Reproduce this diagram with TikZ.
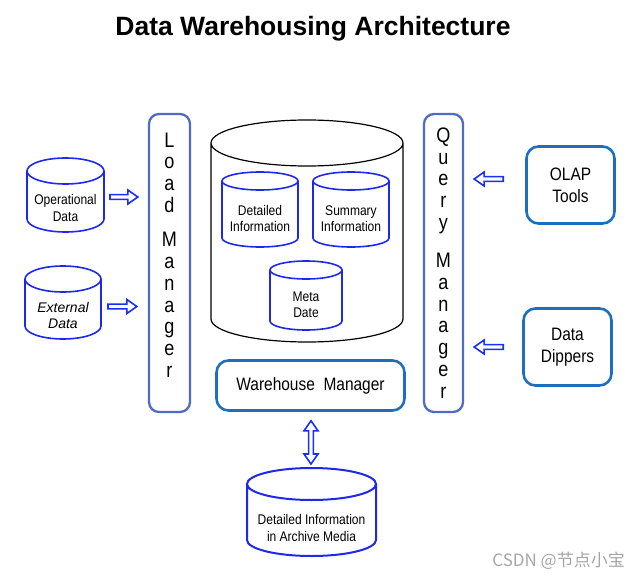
\documentclass[tikz,border=0pt]{standalone}
\usepackage{fontspec}
\setmainfont{Liberation Sans}
\newfontfamily\narrowfont[FakeStretch=0.86]{Liberation Sans}
\newfontfamily\cjkfont{Noto Sans CJK SC}
\usetikzlibrary{arrows.meta,calc}
\definecolor{mgrblue}{RGB}{78,108,196}
\definecolor{boxblue}{RGB}{28,110,190}
\definecolor{cylblue}{RGB}{30,40,235}
\definecolor{arrblue}{RGB}{25,45,255}
\newcommand\drawcyl[3]{%
  \draw[#3] let \p1=(#1.north west), \p2=(#1.south east), \n1={(\x2-\x1)/2} in
    ({\x1},{\y1-#2pt}) -- ({\x1},{\y2+#2pt})
    arc[start angle=180, end angle=360, x radius=\n1, y radius=#2pt]
    -- ({\x2},{\y1-#2pt})
    ({\x1+\n1},{\y1-#2pt}) ellipse[x radius=\n1, y radius=#2pt];}
% hollow block arrow from #1 to #2
\newcommand\hollowarrow[2]{%
  \coordinate (hastart) at (#1);
  \coordinate (haend) at (#2);
  \coordinate (habase) at ($(haend)!10pt!(hastart)$);
  \draw[harrow] ($(hastart)!2.4pt!90:(haend)$) -- ($(habase)!2.4pt!-90:(hastart)$)
    -- ($(habase)!7pt!-90:(hastart)$) -- (haend)
    -- ($(habase)!7pt!90:(hastart)$) -- ($(habase)!2.4pt!90:(hastart)$)
    -- ($(hastart)!2.4pt!-90:(haend)$) -- cycle;}
% hollow double-headed block arrow between #1 and #2
\newcommand\hollowdarrow[2]{%
  \coordinate (hastart) at (#1);
  \coordinate (haend) at (#2);
  \coordinate (habase) at ($(haend)!10pt!(hastart)$);
  \coordinate (hatail) at ($(hastart)!10pt!(haend)$);
  \draw[harrow] (hastart) -- ($(hatail)!7pt!90:(haend)$) -- ($(hatail)!2.4pt!90:(haend)$)
    -- ($(habase)!2.4pt!-90:(hastart)$) -- ($(habase)!7pt!-90:(hastart)$) -- (haend)
    -- ($(habase)!7pt!90:(hastart)$) -- ($(habase)!2.4pt!90:(hastart)$)
    -- ($(hatail)!2.4pt!-90:(haend)$) -- ($(hatail)!7pt!-90:(haend)$) -- cycle;}
\begin{document}
\begin{tikzpicture}[x=1pt,y=-1pt,
  cylbox/.style={rectangle, draw=none, inner sep=0pt, outer sep=0pt},
  cyltext/.style={align=center, font=\narrowfont\fontsize{14}{16.5}\selectfont, inner sep=0pt},
  bluecyl/.style={draw=cylblue, line width=1.6pt},
  blackcyl/.style={draw=black, line width=1.2pt},
  mgr/.style={rectangle, draw=mgrblue, line width=2.3pt, rounded corners=10pt, inner sep=0pt},
  mgrtext/.style={anchor=north, align=center, inner sep=0pt, font=\narrowfont\fontsize{21}{21.7}\selectfont},
  tool/.style={rectangle, draw=boxblue, line width=2.6pt, rounded corners=12pt, inner sep=0pt, align=center, font=\narrowfont\fontsize{18}{22}\selectfont},
  harrow/.style={draw=arrblue, line width=1.6pt, line join=miter, fill=white}
]
\useasboundingbox (0,0) rectangle (640,578);

\node[font=\bfseries\fontsize{26.5}{30}\selectfont] (title) at (313,29) {Data Warehousing Architecture};

% left sources
\node[cylbox, minimum width=77pt, minimum height=74pt] (op) at (65.5,195) {};
\drawcyl{op}{13}{bluecyl}
\node[cyltext] (opT) at ([yshift=-13pt]op.center) {Operational\\Data};
\node[cylbox, minimum width=76pt, minimum height=73pt] (ext) at (63,302.5) {};
\drawcyl{ext}{13}{bluecyl}
\node[cyltext, font=\itshape\fontsize{14}{16.5}\selectfont] (extT) at ([yshift=-13pt]ext.center) {External\\Data};

% managers
\node[mgr, minimum width=41pt, minimum height=298pt] (load) at (169.5,263) {};
\node[mgrtext] (loadT) at (169.5,132.5) {L\\o\\a\\d\\[13pt]M\\a\\n\\a\\g\\e\\r};
\node[mgr, minimum width=39pt, minimum height=298pt] (query) at (443.5,263) {};
\node[mgrtext] (queryT) at (443.5,127.5) {Q\\u\\e\\r\\y\\[17pt]M\\a\\n\\a\\g\\e\\r};

% data warehouse
\node[cylbox, minimum width=192pt, minimum height=222pt] (dw) at (307,231) {};
\drawcyl{dw}{23}{blackcyl}
\node[cylbox, minimum width=76pt, minimum height=75pt] (det) at (260,209.5) {};
\drawcyl{det}{9}{bluecyl}
\node[cyltext] (detT) at ([yshift=-9pt]det.center) {Detailed\\Information};
\node[cylbox, minimum width=76pt, minimum height=75pt] (sum) at (351,209.5) {};
\drawcyl{sum}{9}{bluecyl}
\node[cyltext] (sumT) at ([yshift=-9pt]sum.center) {Summary\\Information};
\node[cylbox, minimum width=72pt, minimum height=69pt] (meta) at (306,295.5) {};
\drawcyl{meta}{9}{bluecyl}
\node[cyltext] (metaT) at ([yshift=-9pt]meta.center) {Meta\\Date};

\node[tool, minimum width=188pt, minimum height=50pt] (wh) at (310.5,385.5) {Warehouse\ \ Manager};

% right tools
\node[tool, minimum width=88pt, minimum height=77pt] (olap) at (570.5,185) {OLAP\\Tools};
\node[tool, minimum width=88pt, minimum height=77pt] (dip) at (567.5,347) {Data\\Dippers};

% archive
\node[cylbox, minimum width=129pt, minimum height=88pt] (arch) at (311.5,512) {};
\drawcyl{arch}{16}{bluecyl, line width=2pt}
\node[cyltext] (archT) at ([yshift=-16pt]arch.center) {Detailed Information\\in Archive Media};

% arrows
\hollowarrow{$(op.east)+(6,2)$}{$(op.east -| load.west)+(-10,2)$}
\hollowarrow{$(ext.east)+(7,4)$}{$(ext.east -| load.west)+(-11,4)$}
\hollowarrow{$(olap.west)+(-22,-6)$}{$(olap.west -| query.east)+(10,-6)$}
\hollowarrow{$(dip.west)+(-19,0)$}{$(dip.west -| query.east)+(10,0)$}
\hollowdarrow{$(wh.south)+(0.5,9)$}{$(arch.north)+(-0.5,-4)$}

\node[font=\cjkfont\fontsize{17}{20}\selectfont, text=black!35, anchor=east, inner sep=0pt] (wm) at (625,561) {CSDN @节点小宝};
\end{tikzpicture}
\end{document}
